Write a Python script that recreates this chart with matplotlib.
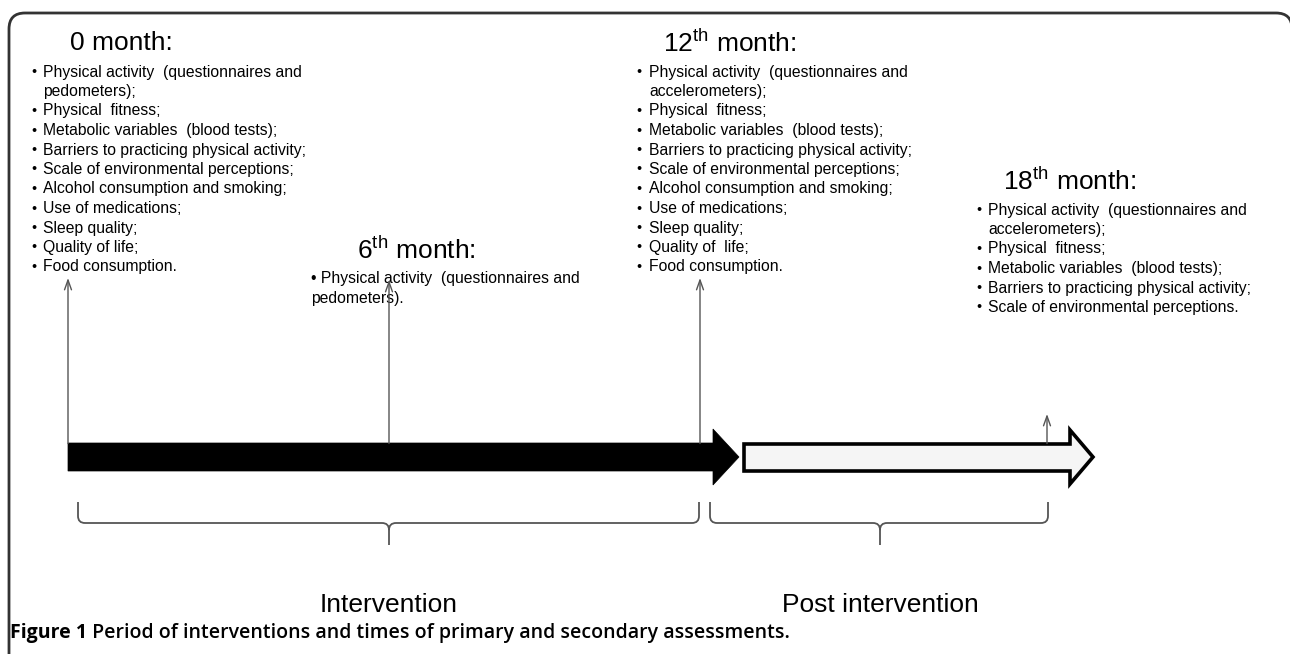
import matplotlib
matplotlib.use('Agg')
import matplotlib.pyplot as plt
from matplotlib.patches import Polygon, PathPatch
from matplotlib.path import Path

plt.rcParams['font.family'] = ['Liberation Sans', 'DejaVu Sans']
plt.rcParams['mathtext.fontset'] = 'custom'
plt.rcParams['mathtext.rm'] = 'Liberation Sans'

# assessment times (month) and their text
months = [0, 6, 12, 18]
headings = ['0 month:', '6$^{\\mathrm{th}}$ month:', '12$^{\\mathrm{th}}$ month:', '18$^{\\mathrm{th}}$ month:']
items_0 = [['Physical activity  (questionnaires and', 'pedometers);'],
           ['Physical  fitness;'],
           ['Metabolic variables  (blood tests);'],
           ['Barriers to practicing physical activity;'],
           ['Scale of environmental perceptions;'],
           ['Alcohol consumption and smoking;'],
           ['Use of medications;'],
           ['Sleep quality;'],
           ['Quality of life;'],
           ['Food consumption.']]
items_6 = [['Physical activity  (questionnaires and', 'pedometers).']]
items_12 = [['Physical activity  (questionnaires and', 'accelerometers);'],
            ['Physical  fitness;'],
            ['Metabolic variables  (blood tests);'],
            ['Barriers to practicing physical activity;'],
            ['Scale of environmental perceptions;'],
            ['Alcohol consumption and smoking;'],
            ['Use of medications;'],
            ['Sleep quality;'],
            ['Quality of  life;'],
            ['Food consumption.']]
items_18 = [['Physical activity  (questionnaires and', 'accelerometers);'],
            ['Physical  fitness;'],
            ['Metabolic variables  (blood tests);'],
            ['Barriers to practicing physical activity;'],
            ['Scale of environmental perceptions.']]
all_items = [items_0, items_6, items_12, items_18]
periods = ['Intervention', 'Post intervention']
caption_bold = 'Figure 1'
caption_rest = ' Period of interventions and times of primary and secondary assessments.'

# layout in pixel space (fig 1290 x 654)
tick_x = [68, 389, 700, 1047]
head_pos = [(70, 43), (357, 250), (663, 43), (1003, 181)]
bullet_x = [31, 311, 636, 976]
text_x = [43, 311, 649, 988]
first_line_y = [72, 279, 72, 210]
arrow_tip_y = [278, 280, 278, 414]
line_h = 19.5
gray = '#555555'
item_fs = 11.3

fig = plt.figure(figsize=(12.9, 6.54), dpi=100)
ax = fig.add_axes([0, 0, 1, 1])
ax.set_xlim(0, 1290)
ax.set_ylim(654, 0)
ax.axis('off')

# frame: left side, top, rounded corners; right side lies outside the picture
fr = [(9, 680), (9, 29), (9, 13), (25, 13), (1276, 13), (1292, 13), (1292, 29), (1292, 680)]
fr_codes = [Path.MOVETO, Path.LINETO, Path.CURVE3, Path.CURVE3,
            Path.LINETO, Path.CURVE3, Path.CURVE3, Path.LINETO]
ax.add_patch(PathPatch(Path(fr, fr_codes), fill=False, ec='#333333', lw=2.0))

# headings and item lists
for i in range(4):
    hx, hy = head_pos[i]
    ax.text(hx, hy, headings[i], fontsize=19, va='center', ha='left')
    y = first_line_y[i]
    for item in all_items[i]:
        for j, line in enumerate(item):
            if i == 1:
                txt = '\u2022 ' + line if j == 0 else line
                ax.text(text_x[i], y, txt, fontsize=item_fs, va='center', ha='left')
            else:
                if j == 0:
                    ax.text(bullet_x[i], y, '\u2022', fontsize=item_fs - 1, va='center', ha='left')
                ax.text(text_x[i], y, line, fontsize=item_fs, va='center', ha='left')
            y += line_h

# vertical arrows from the timeline
for i in range(4):
    ax.annotate('', xy=(tick_x[i], arrow_tip_y[i]), xytext=(tick_x[i], 443.5),
                arrowprops=dict(arrowstyle='->,head_length=0.7,head_width=0.25',
                                color=gray, lw=1.0, shrinkA=0, shrinkB=0))

# timeline arrows
black = Polygon([(68, 443), (713, 443), (713, 429), (739, 457), (713, 485), (713, 471), (68, 471)],
                closed=True, fc='black', ec='black', lw=0.5)
ax.add_patch(black)
white = Polygon([(744, 444), (1070, 444), (1070, 430), (1093, 457), (1070, 484), (1070, 471), (744, 471)],
                closed=True, fc='#f5f5f5', ec='black', lw=2.6, joinstyle='miter')
ax.add_patch(white)


def brace(x1, x2, xm, ytop=502, ymid=523, ybot=545, r=7):
    verts = [(x1, ytop), (x1, ymid - r), (x1, ymid), (x1 + r, ymid),
             (xm - r, ymid), (xm, ymid), (xm, ymid + r), (xm, ybot),
             (xm, ymid + r), (xm, ymid), (xm + r, ymid),
             (x2 - r, ymid), (x2, ymid), (x2, ymid - r), (x2, ytop)]
    codes = [Path.MOVETO, Path.LINETO, Path.CURVE3, Path.CURVE3,
             Path.LINETO, Path.CURVE3, Path.CURVE3, Path.LINETO,
             Path.MOVETO, Path.CURVE3, Path.CURVE3,
             Path.LINETO, Path.CURVE3, Path.CURVE3, Path.LINETO]
    ax.add_patch(PathPatch(Path(verts, codes), fill=False, ec=gray, lw=1.3))


brace(78, 699, 389)
brace(710, 1048, 880)

ax.text(389, 605, periods[0], fontsize=19, ha='center', va='center')
ax.text(880, 605, periods[1], fontsize=19, ha='center', va='center')

# caption
cap = ax.text(10, 633, caption_bold, fontsize=14, fontweight='bold', family='Open Sans',
              ha='left', va='center')
fig.canvas.draw()
bb = cap.get_window_extent()
x_rest = ax.transData.inverted().transform((bb.x1, 0))[0]
ax.text(x_rest, 633, caption_rest, fontsize=14, fontweight='semibold', family='Open Sans',
        ha='left', va='center')

fig.savefig('out.png', dpi=100)
